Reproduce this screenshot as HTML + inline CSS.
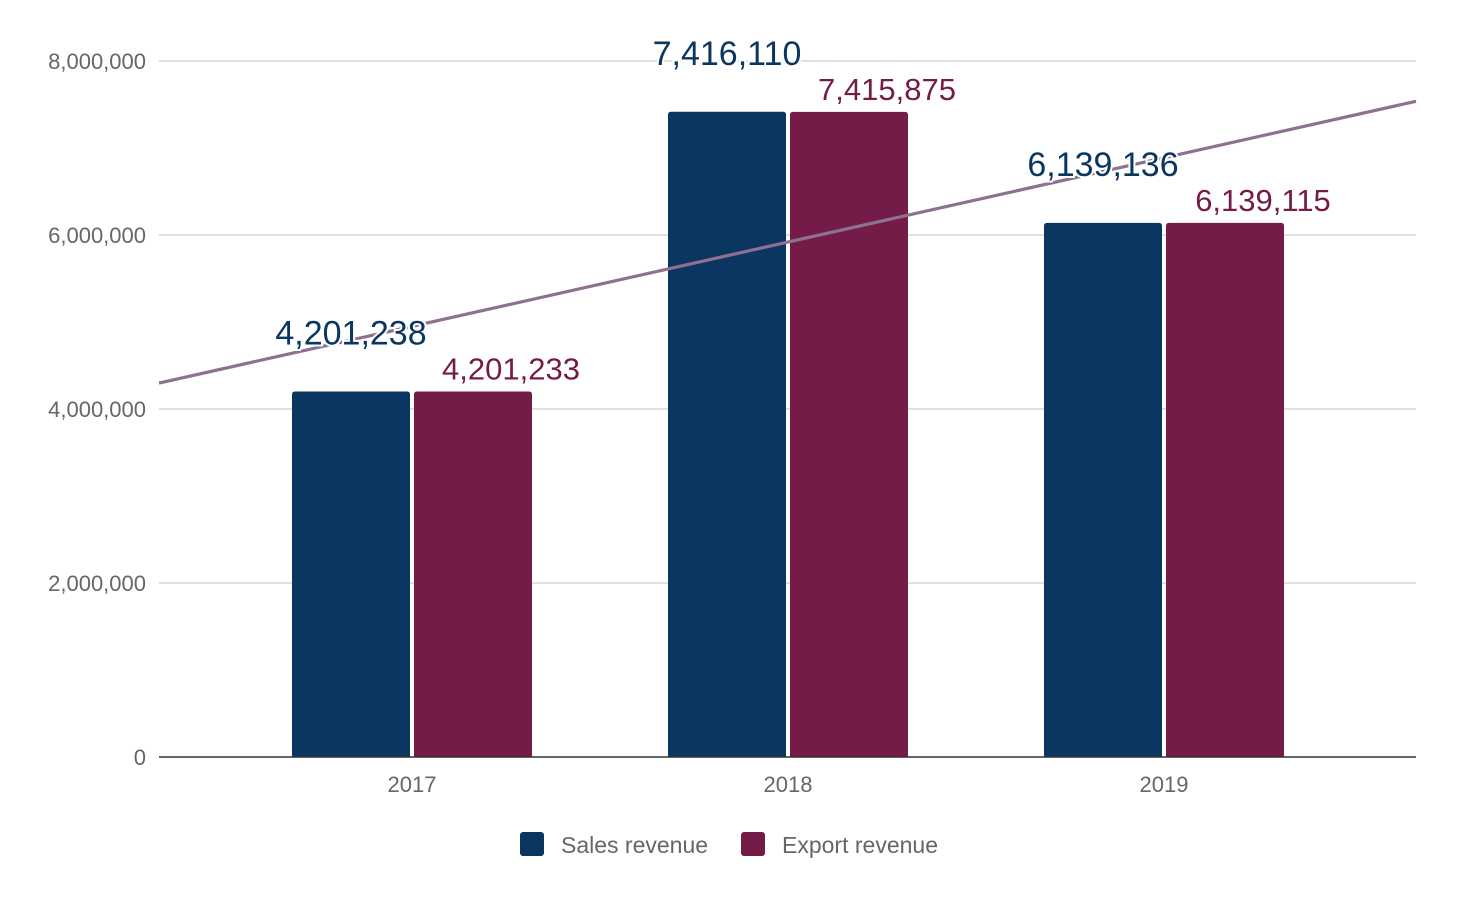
<!DOCTYPE html>
<html><head><meta charset="utf-8"><style>
body{margin:0;background:#fff;}
svg{display:block;font-family:"Liberation Sans",Arial,sans-serif;}
</style></head><body>
<svg id="chart" width="1462" height="904" viewBox="0 0 1462 904">
<g id="grid"></g><g id="bars"></g><g id="trend"></g><g id="labels"></g><g id="axes"></g>
<g id="legend">
 <rect x="520" y="832" width="24" height="24" rx="3" fill="#0b3660"/>
 <text x="561" y="853" font-size="23" fill="#666">Sales revenue</text>
 <rect x="741" y="832" width="24" height="24" rx="3" fill="#741b47"/>
 <text x="782" y="853" font-size="23" fill="#666">Export revenue</text>
</g>
</svg>
<script>
const categories = ["2017","2018","2019"];
const salesValues = [4201238, 7416110, 6139136];
const exportValues = [4201233, 7415875, 6139115];
const yTicks = [0, 2000000, 4000000, 6000000, 8000000];

const NS="http://www.w3.org/2000/svg";
const x0=159,x1=1416,yBase=757,pxPerUnit=696/8000000;
const yScale=v=>yBase-v*pxPerUnit;
const xCenter=i=>412+i*376;
const xIndex=px=>(px-412)/376;
const fmt=v=>v.toLocaleString("en-US");
function mk(tag,attrs,parent){const e=document.createElementNS(NS,tag);for(const k in attrs)e.setAttribute(k,attrs[k]);document.getElementById(parent).appendChild(e);return e;}

yTicks.forEach(t=>{
  const y=yScale(t);
  if(t>0){const l=mk("line",{x1:x0,x2:x1,y1:y,y2:y,stroke:"#ccc","stroke-width":1.3},"grid");
  
  }
  const tx=mk("text",{x:146,y:y+8,"text-anchor":"end","font-size":22,fill:"#666"},"axes");
  tx.textContent=fmt(t);
  
  
});
const ax=mk("line",{x1:x0,x2:x1,y1:yBase,y2:yBase,stroke:"#333","stroke-width":1.5},"axes");



function barPath(x,w,top,r){return `M${x},${yBase}V${top+r}Q${x},${top} ${x+r},${top}H${x+w-r}Q${x+w},${top} ${x+w},${top+r}V${yBase}Z`;}
categories.forEach((c,i)=>{
  const cx=xCenter(i),w=118;
  const sTop=yScale(salesValues[i]),eTop=yScale(exportValues[i]);
  const b1=mk("path",{d:barPath(cx-w-2,w,sTop,3),fill:"#0b3660"},"bars");
  
  
  const b2=mk("path",{d:barPath(cx+2,w,eTop,3),fill:"#741b47"},"bars");
  
  
  const t1=mk("text",{x:cx-61,y:sTop-47,"text-anchor":"middle","font-size":34,fill:"#0b3660",stroke:"#fff","stroke-width":4,"paint-order":"stroke"},"labels");
  t1.textContent=fmt(salesValues[i]);
  
  
  const t2=mk("text",{x:cx+99,y:eTop-12,"text-anchor":"middle","font-size":31,fill:"#741b47",stroke:"#fff","stroke-width":4,"paint-order":"stroke"},"labels");
  t2.textContent=fmt(exportValues[i]);
  
  
  const xl=mk("text",{x:cx,y:792,"text-anchor":"middle","font-size":22,fill:"#666"},"axes");
  xl.textContent=c;
  
  
});

const n=salesValues.length;
const mx=(n-1)/2,my=salesValues.reduce((a,b)=>a+b,0)/n;
let num=0,den=0;salesValues.forEach((v,i)=>{num+=(i-mx)*(v-my);den+=(i-mx)**2;});
const slope=num/den,inter=my-slope*mx;
const tl=mk("line",{x1:x0,y1:yScale(inter+slope*xIndex(x0)),x2:x1,y2:yScale(inter+slope*xIndex(x1)),stroke:"#8e7190","stroke-width":3.2},"trend");


</script>
</body></html>
